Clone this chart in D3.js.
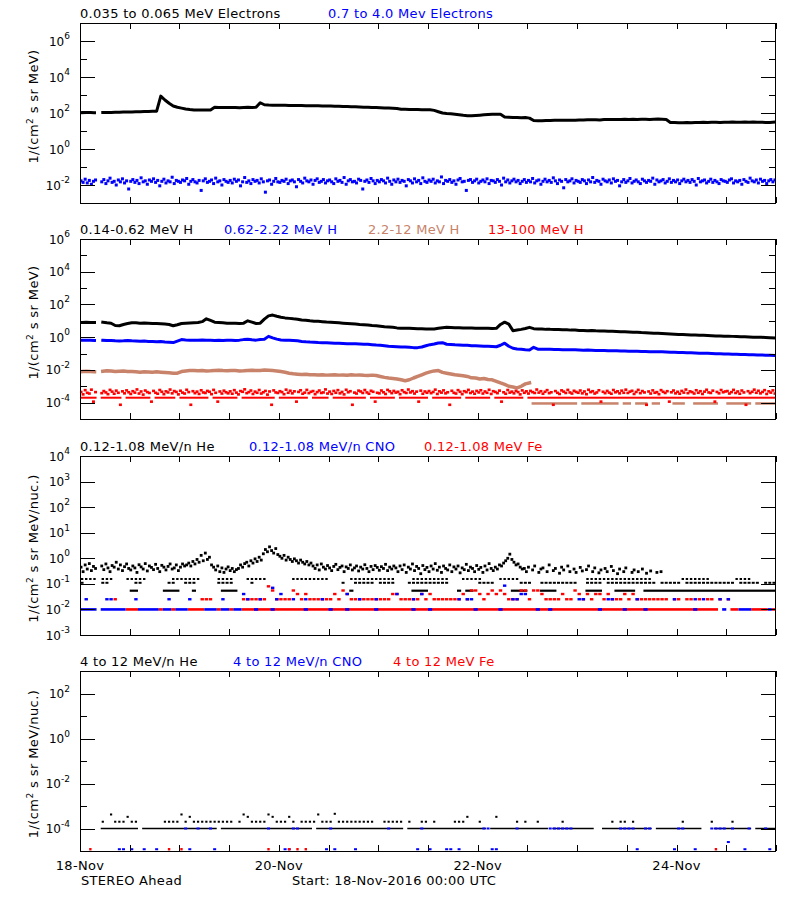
<!DOCTYPE html>
<html><head><meta charset="utf-8">
<script src="https://cdn.jsdelivr.net/npm/d3@7"></script>
<style>
body{margin:0;background:#fff}
text{font-family:"DejaVu Sans",sans-serif}
</style></head>
<body><svg id="c" width="800" height="900"></svg>
<script>
// ---------------- DATA ----------------
// hourly (index = hour since 18-Nov-2016 00:00 UTC), 0 = no data / no counts
const dateTicks = ["2016-11-18","2016-11-20","2016-11-22","2016-11-24"];
const p1Titles = ["0.035 to 0.065 MeV Electrons","0.7 to 4.0 Mev Electrons"];
const p2Titles = ["0.14-0.62 MeV H","0.62-2.22 MeV H","2.2-12 MeV H","13-100 MeV H"];
const p3Titles = ["0.12-1.08 MeV/n He","0.12-1.08 MeV/n CNO","0.12-1.08 MeV Fe"];
const p4Titles = ["4 to 12 MeV/n He","4 to 12 MeV/n CNO","4 to 12 MeV Fe"];

// Panel 1: 0.035-0.065 MeV electrons (hourly)
const eLow = [
105,106,105,104,0,107,108,108,110,111,112,113,
115,116,118,120,122,124,126,870,525,347,245,209,
186,166,155,148,147,148,146,148,209,205,200,204,
200,202,198,205,207,203,210,372,288,276,272,270,
268,266,263,260,258,257,254,252,250,249,247,245,
243,240,236,232,228,224,220,216,212,208,204,200,
196,192,187,182,178,162,160,158,156,155,153,152,
150,140,118,100,94,90,85,80,74,70,70,73,
76,79,82,84,85,86,60,58,56,57,55,56,
52,38,37,37,38,38,39,39,39,40,40,40,
41,41,42,42,42,41,43,44,44,43,44,45,
44,45,44,45,45,44,45,46,45,44,30,30,
29,29,30,29,30,30,31,30,31,31,30,31,
31,32,31,31,32,31,32,31,31,30,30,31];
// Panel 1: 0.7-4.0 MeV electrons (half-hourly)
const eHigh = [
.017,.014,.021,.013,.018,.011,.016,.019,0,0,.015,.02,.012,.017,.024,.014,.016,.01,.019,.015,.022,.013,.017,.006,
.016,.02,.014,.018,.012,.025,.015,.017,.011,.019,.016,.022,.014,.018,.009,.016,.021,.013,.017,.015,.027,.012,.018,.016,
.014,.019,.017,.023,.011,.016,.02,.015,.013,.018,.005,.017,.022,.014,.016,.019,.012,.024,.015,.017,.01,.02,.016,.014,
.018,.013,.021,.016,.019,.009,.015,.026,.014,.017,.012,.02,.016,.018,.013,.022,.015,.004,.017,.019,.011,.016,.023,.015,
.014,.018,.016,.021,.012,.017,.019,.015,.008,.02,.016,.013,.024,.017,.015,.019,.011,.018,.022,.014,.016,.02,.013,.017,
.019,.015,.012,.022,.016,.018,.014,.026,.011,.017,.02,.015,.016,.013,.021,.018,.006,.016,.019,.014,.023,.017,.012,.018,
.015,.02,.017,.013,.024,.016,.011,.019,.015,.021,.014,.018,.016,.009,.02,.017,.013,.022,.015,.018,.012,.025,.016,.014,
.019,.016,.021,.013,.017,.015,.028,.012,.018,.016,.02,.014,.017,.011,.019,.023,.015,.016,.005,.018,.02,.014,.017,.021,
.013,.016,.019,.015,.022,.012,.018,.017,.014,.02,.016,.01,.024,.015,.019,.013,.017,.021,.015,.018,.012,.016,.02,.014,
.018,.015,.023,.013,.017,.019,.011,.016,.021,.015,.018,.014,.025,.017,.012,.019,.016,.007,.02,.015,.017,.022,.013,.018,
.016,.014,.02,.017,.012,.019,.015,.026,.014,.018,.016,.011,.021,.017,.015,.019,.013,.022,.016,.018,.009,.015,.02,.014,
.017,.023,.013,.016,.019,.015,.012,.021,.017,.014,.018,.016,.024,.011,.019,.015,.017,.02,.013,.016,.022,.014,.018,.015,
.019,.012,.017,.021,.015,.018,.014,.02,.016,.01,.023,.015,.017,.019,.013,.016,.021,.014,.018,.015,.012,.02,.017,.016,
.014,.019,.022,.013,.017,.015,.018,.011,.02,.016,.014,.024,.017,.015,.019,.013,.021,.016,.018,.012,.017,.02,.015,.019];

// Panel 2: protons (hourly)
const hLow = [
7.9,8.1,7.9,7.8,0,8.3,7.6,7.1,5.2,5.0,6.0,6.9,
7.6,7.6,7.2,7.4,7.1,6.9,6.8,6.6,6.3,6.0,5.0,5.8,
6.9,7.2,7.4,7.6,7.9,8.9,13.2,10.5,8.3,7.9,7.6,7.2,
7.1,7.1,6.9,7.2,10,8.3,6.9,7.2,12.6,20,22.4,19,
16.6,15.1,14.1,13.2,12.6,11.2,10.7,10,9.5,9.3,8.9,8.5,
8.3,7.9,7.6,7.2,6.9,6.6,6.3,6.0,5.8,5.5,5.2,5.0,
4.7,4.4,4.2,4.0,3.7,3.5,3.5,3.5,3.4,3.3,3.3,3.2,
3.2,3.2,3.5,3.8,4.0,3.9,3.8,3.8,3.7,3.6,3.6,3.5,
3.5,3.5,3.5,3.4,3.5,6.0,8.3,6.3,2.5,2.75,3.0,3.4,
4.0,3.3,3.2,3.15,3.0,3.0,2.9,2.95,2.8,2.85,2.7,2.75,
2.6,2.6,2.5,2.55,2.45,2.4,2.38,2.3,2.28,2.2,2.15,2.12,
2.05,2.0,1.98,1.9,1.88,1.82,1.76,1.72,1.66,1.6,1.55,1.51,
1.48,1.45,1.41,1.38,1.35,1.32,1.29,1.26,1.23,1.2,1.17,1.15,
1.15,1.12,1.1,1.07,1.05,1.02,1.0,1.0,0.98,0.95,0.93,0.91];
const hMid = [
.65,.66,.65,.63,0,.65,.63,.62,.6,.59,.6,.62,
.6,.59,.56,.58,.55,.54,.53,.54,.51,.49,.47,.58,
.71,.68,.66,.65,.66,.68,.66,.65,.63,.65,.63,.66,
.65,.63,.66,.71,.74,.69,.66,.72,.76,1.12,.91,.76,
.68,.66,.65,.63,.6,.55,.52,.5,.49,.47,.46,.45,
.44,.43,.42,.41,.4,.39,.39,.38,.37,.37,.35,.33,
.32,.3,.28,.27,.26,.25,.25,.24,.23,.23,.25,.3,
.35,.38,.44,.46,.37,.355,.34,.33,.32,.32,.3,.295,
.29,.28,.275,.27,.26,.32,.43,.28,.21,.19,.18,.17,
.166,.24,.186,.185,.18,.18,.178,.175,.172,.17,.17,.168,
.165,.16,.162,.158,.155,.156,.152,.15,.148,.146,.145,.142,
.14,.138,.136,.135,.133,.131,.13,.128,.127,.126,.12,.118,
.116,.114,.112,.11,.108,.106,.105,.103,.1,.098,.097,.095,
.093,.092,.09,.088,.087,.085,.084,.082,.081,.08,.078,.077];
const hHigh = [
.0079,.0083,.0079,.0078,0,.0083,.0089,.0085,.0079,.0083,.0087,.0081,
.0079,.0076,.0072,.0078,.0074,.0071,.0076,.0072,.0069,.0066,.0063,.0063,
.0079,.0087,.0091,.0093,.0089,.0091,.0087,.0089,.0093,.0095,.0091,.0089,
.0093,.0091,.0087,.0089,.0093,.0095,.0091,.0093,.0098,.0095,.0091,.0087,
.0079,.0071,.0063,.0058,.0055,.0052,.0054,.005,.0051,.0049,.005,.0048,
.0049,.005,.0048,.0049,.0047,.005,.0048,.0049,.0047,.0046,.0048,.0045,
.004,.0035,.0032,.003,.0028,.0025,.0022,.0025,.0032,.004,.005,.0063,
.0076,.0087,.0091,.0071,.0063,.0056,.005,.0047,.0044,.004,.0033,.0032,
.0028,.003,.0026,.0025,.002,.0016,.0013,.001,.0009,.0008,.001,.0014,
.0016,0,0,0,0,0,0,0,0,0,0,0,
0,0,0,0,0,0,0,0,0,0,0,0,
0,0,0,0,0,0,0,0,0,0,0,0,
0,0,0,0,0,0,0,0,0,0,0,0,
0,0,0,0,0,0,0,0,0,0,0,0];
// 2.2-12 MeV H one-count floor: level and [startHour, endHour) spans
const hHighFloorLevel = 8.9e-5;
const hHighFloorSpans = [[109,120],[121,130],[131,133],[134,137],[138,140],[143,146],[148,154],[156,162],[163,168]];
// 13-100 MeV H (half-hourly)
const pRed = [
4.5e-4,3.2e-4,5.8e-4,4.0e-4,3.6e-4,6.2e-4,1.15e-4,4.4e-4,0,0,3.8e-4,5.1e-4,4.2e-4,3.3e-4,6.0e-4,4.7e-4,3.5e-4,5.4e-4,4.0e-4,7.4e-5,4.9e-4,3.7e-4,5.6e-4,4.3e-4,
3.4e-4,5.0e-4,4.1e-4,6.4e-4,3.6e-4,4.8e-4,3.1e-4,5.5e-4,4.4e-4,3.9e-4,1.15e-4,5.2e-4,4.0e-4,3.5e-4,5.9e-4,4.6e-4,3.3e-4,4.9e-4,4.2e-4,6.3e-4,3.7e-4,5.1e-4,4.5e-4,3.2e-4,
5.3e-4,4.1e-4,3.6e-4,6.1e-4,4.4e-4,7.4e-5,5.0e-4,3.8e-4,4.7e-4,3.4e-4,5.7e-4,4.2e-4,3.9e-4,5.2e-4,4.6e-4,3.3e-4,6.0e-4,4.0e-4,1.15e-4,4.8e-4,3.6e-4,5.4e-4,4.3e-4,3.7e-4,
4.9e-4,3.5e-4,5.8e-4,4.1e-4,3.2e-4,5.1e-4,4.6e-4,6.5e-4,3.8e-4,4.4e-4,5.5e-4,3.4e-4,4.7e-4,4.0e-4,5.9e-4,3.6e-4,4.3e-4,5.2e-4,3.1e-4,4.8e-4,7.4e-5,5.6e-4,4.2e-4,3.9e-4,
5.0e-4,4.4e-4,3.3e-4,6.2e-4,4.0e-4,5.3e-4,3.7e-4,4.9e-4,1.15e-4,4.5e-4,5.7e-4,3.5e-4,4.1e-4,6.0e-4,3.8e-4,4.6e-4,5.1e-4,3.3e-4,4.4e-4,5.5e-4,3.9e-4,4.2e-4,6.4e-4,3.6e-4,
4.7e-4,3.4e-4,5.2e-4,4.0e-4,5.8e-4,3.7e-4,4.5e-4,3.2e-4,6.1e-4,4.3e-4,5.0e-4,7.4e-5,4.1e-4,3.6e-4,5.4e-4,4.8e-4,3.9e-4,5.9e-4,4.2e-4,3.5e-4,5.3e-4,4.6e-4,1.15e-4,4.0e-4,
3.7e-4,5.5e-4,4.3e-4,3.4e-4,6.0e-4,4.9e-4,3.8e-4,5.2e-4,4.1e-4,4.6e-4,3.3e-4,5.7e-4,4.4e-4,3.9e-4,6.3e-4,4.2e-4,5.0e-4,3.6e-4,4.7e-4,1.15e-4,5.4e-4,3.5e-4,4.8e-4,4.0e-4,
5.1e-4,3.8e-4,4.5e-4,6.2e-4,3.4e-4,4.9e-4,4.1e-4,5.6e-4,3.7e-4,4.3e-4,7.4e-5,5.3e-4,4.0e-4,3.6e-4,5.8e-4,4.6e-4,3.3e-4,5.0e-4,4.4e-4,6.0e-4,3.9e-4,4.7e-4,3.5e-4,5.2e-4,
4.2e-4,5.7e-4,3.6e-4,4.8e-4,4.0e-4,6.1e-4,3.4e-4,5.0e-4,4.5e-4,3.8e-4,5.4e-4,1.15e-4,4.3e-4,3.5e-4,5.9e-4,4.1e-4,4.7e-4,3.7e-4,5.3e-4,4.4e-4,3.2e-4,5.6e-4,4.0e-4,4.9e-4,
3.6e-4,5.2e-4,4.4e-4,3.9e-4,6.3e-4,4.1e-4,5.0e-4,3.5e-4,4.6e-4,5.8e-4,3.8e-4,4.3e-4,7.4e-5,5.1e-4,4.0e-4,3.4e-4,5.6e-4,4.7e-4,3.9e-4,6.0e-4,4.2e-4,3.6e-4,5.3e-4,4.5e-4,
4.0e-4,5.5e-4,3.7e-4,4.8e-4,3.3e-4,6.1e-4,4.4e-4,5.0e-4,3.6e-4,4.2e-4,5.7e-4,1.15e-4,4.6e-4,3.8e-4,5.2e-4,4.1e-4,3.5e-4,5.9e-4,4.3e-4,4.9e-4,3.7e-4,5.4e-4,4.0e-4,6.2e-4,
3.9e-4,4.7e-4,5.3e-4,3.4e-4,4.5e-4,6.0e-4,3.8e-4,5.1e-4,4.2e-4,7.4e-5,4.8e-4,3.6e-4,5.6e-4,4.0e-4,4.4e-4,3.3e-4,5.8e-4,4.6e-4,3.9e-4,5.0e-4,1.15e-4,4.3e-4,5.5e-4,3.7e-4,
4.6e-4,3.5e-4,5.2e-4,4.1e-4,6.3e-4,3.8e-4,4.9e-4,4.4e-4,3.6e-4,5.7e-4,4.0e-4,5.0e-4,3.4e-4,4.7e-4,6.1e-4,4.2e-4,3.9e-4,5.4e-4,1.15e-4,4.5e-4,3.7e-4,5.9e-4,4.3e-4,4.8e-4,
5.1e-4,3.6e-4,4.4e-4,6.0e-4,3.9e-4,4.8e-4,3.5e-4,5.5e-4,4.2e-4,7.4e-5,5.0e-4,3.8e-4,4.6e-4,6.2e-4,4.0e-4,5.3e-4,3.7e-4,4.5e-4,5.8e-4,3.4e-4,4.9e-4,4.1e-4,5.6e-4,3.6e-4];
const pRedRowLevel = 2.0e-4;
const pRedRowSpans = [[0,4],[5,10],[11,17],[18,23],[24,31],[32,38],[39,47],[48,55],[56,60],[61,69],[70,76],[77,84],[85,92],[93,99],[100,107],[108,168]];

// Panel 3: 0.12-1.08 MeV/n He (half-hourly) plus count-level rows
const heP3 = [
.45,.3,.55,.38,.62,.33,.48,.4,0,0,.5,.36,.6,.42,.3,.52,.45,.7,.38,.55,.33,.47,.6,.4,
.35,.5,.42,.28,.56,.46,.38,.62,.32,.5,.44,.36,.58,.4,.3,.53,.45,.35,.48,.6,.38,.42,.55,.33,
.45,.6,.5,.55,.65,.5,.75,.6,.9,.7,1.3,.8,1.6,.9,1.1,.55,.45,.35,.5,.3,.42,.28,.38,.46,
.33,.4,.3,.36,.4,.55,.45,.62,.7,.5,.8,.65,.95,.75,1.1,.85,1.5,2.2,1.8,2.8,2.0,1.6,2.4,1.4,
1.2,1.0,1.3,.85,1.1,.9,.75,.95,.8,.65,.85,.7,.6,.75,.55,.65,.5,.4,.55,.35,.6,.45,.38,.52,
.42,.33,.48,.58,.36,.44,.5,.3,.46,.4,.55,.35,.42,.5,.32,.45,.38,.56,.4,.3,.48,.36,.52,.44,
.34,.47,.4,.58,.33,.45,.38,.5,.42,.3,.5,.36,.55,.28,.45,.38,.6,.33,.48,.4,.25,.52,.36,.44,
.3,.5,.38,.62,.34,.45,.28,.5,.4,.35,.55,.3,.46,.38,.5,.27,.42,.36,.58,.33,.45,.4,.3,.52,
.37,.44,.28,.5,.35,.62,.4,.33,.45,.38,.55,.5,.65,.8,1.0,1.45,.9,.7,.55,.6,.45,.38,.4,.3,
.45,0,.35,.5,0,.28,.38,.42,0,.3,.55,0,.33,.4,0,.26,.45,.35,0,.5,.3,0,.38,.28,
0,.44,.32,0,.36,.5,0,.3,.42,0,.27,.35,0,.4,.3,0,.48,.33,0,.25,.38,0,.3,.42,
0,0,.28,.35,0,.3,0,.38,0,.26,0,.32,0,0,.28,0,.3,0,0,0,0,0,0,0,
0,0,0,0,0,0,0,0,0,0,0,0,0,0,0,0,0,0,0,0,0,0,0,0,
0,0,0,0,0,0,0,0,0,0,0,0,0,0,0,0,0,0,0,0,0,0,0,0];
const heRowALevel = 0.155;
const heRowASpans = [[0,4],[5,8],[11,16],[22,29],[33,37],[40,45],[51,60],[65,76],[80,89],[92,97],[101,106],[122,138],[145,152],[158,162]];
const heRowBLevel = 0.11;
const heRowBSpans = [[0,1],[5,7],[13,15],[21,23],[25,28],[33,37],[41,42],[63,64],[66,71],[72,76],[79,89],[96,100],[106,109],[111,120],[122,126],[127,139],[140,145],[146,158],[159,164],[165,168]];
const heRowCLevel = 0.054;
const heRowCSpans = [[12,14],[20,24],[27,28],[34,38],[65,66],[80,84],[91,92],[93,95],[104,108],[111,115],[122,126],[129,134],[136,168]];
// CNO / Fe one-count level and spans, plus higher-count hourly values
const baseLevelP3 = 0.01;
const cnoBaseSpans = [[0,4],[5,11],[14,19],[20,22],[23,26],[30,33],[34,36],[37,39],[42,43],[46,47],[54,55],[60,61],[64,65],[71,72],[80,81],[84,85],[95,96],[101,102],[110,111],[113,114],[125,126],[131,132],[136,137],[148,149],[155,156],[159,162],[166,167]];
const feBaseSpans = [[11,14],[19,20],[22,23],[26,30],[33,34],[36,37],[39,154],[157,159],[162,166],[167,168]];
const cnoUp = [
0,.025,0,0,0,0,.025,.025,0,0,0,0,
0,.025,0,0,0,0,0,0,0,.025,0,0,
0,0,.025,0,0,0,0,0,0,0,.025,0,
0,0,0,.04,.025,0,0,.025,0,0,.07,.025,
.04,0,0,.025,0,0,.025,0,0,0,.025,0,
0,0,0,0,.04,0,0,.025,0,0,0,.025,
0,0,0,0,.04,0,0,0,.025,0,.04,0,
0,0,0,0,0,0,0,.025,0,.025,.025,0,
0,0,0,0,0,0,.085,0,.025,.025,.04,.04,
0,0,0,0,0,0,0,0,0,0,0,0,
.025,.025,0,0,0,0,0,.025,.025,0,0,0,
0,0,.025,0,0,0,0,0,0,0,0,.025,
0,0,0,0,.025,0,.025,0,0,0,.025,0,
.025,0,0,0,0,0,0,0,0,0,0,0];
const feUp = [
0,0,0,0,0,0,0,0,.025,0,0,0,
0,0,0,0,0,0,0,0,0,0,0,0,
0,0,0,0,0,.025,.025,.025,0,0,0,0,
0,0,0,.025,.025,.025,.025,.025,.025,.08,.055,.025,
.025,.025,.025,.055,.04,.025,.04,.025,.025,.025,.025,.025,
.025,.04,.025,.055,.04,.025,.025,.025,.025,.025,.025,.025,
.025,.025,.025,.04,.04,.025,.025,.025,.025,.025,.04,.025,
.04,.025,.025,.025,.025,.025,.025,.025,.04,.025,.055,.055,
.04,.025,.04,.055,.04,.055,.04,.025,.025,.025,.055,.055,
.025,.055,.055,.04,.025,.025,.025,.025,.04,.025,.025,.055,
.04,.025,.04,.025,.04,.04,.025,.04,.025,.025,.025,.04,
.025,.04,.025,.025,.025,.025,.025,.025,.025,.025,0,.025,
.025,0,.025,.025,0,.025,0,.025,.025,0,.025,0,
.025,0,0,0,0,0,0,0,0,0,0,0];

// Panel 4: 4-12 MeV/n
const he4LowLevel = 1e-4;
const he4LowSpans = [[5,14],[15,33],[34,56],[57,78],[79,98],[99,113],[114,124],[126,138],[139,150],[153,162],[163,168]];
const he4Up = [
0,0,0,0,0,2e-4,0,4.2e-4,2e-4,2e-4,2e-4,3.3e-4,
2e-4,2e-4,0,0,0,0,0,0,2e-4,2e-4,2e-4,2e-4,
4.2e-4,2e-4,3.3e-4,2e-4,2e-4,2e-4,2e-4,2e-4,2e-4,2e-4,2e-4,2e-4,
2e-4,0,2e-4,4.2e-4,3.3e-4,2e-4,2e-4,2e-4,2e-4,4.2e-4,3.3e-4,2e-4,
2e-4,2e-4,3.3e-4,2e-4,0,2e-4,2e-4,2e-4,2e-4,4.2e-4,2e-4,2e-4,
2e-4,4.5e-4,2e-4,2e-4,2e-4,2e-4,2e-4,2e-4,2e-4,2e-4,2e-4,0,
0,2e-4,2e-4,2e-4,2e-4,2e-4,0,2e-4,0,0,2e-4,2e-4,
0,2e-4,0,0,0,0,2e-4,2e-4,2e-4,3.3e-4,0,0,
2e-4,0,0,0,3.3e-4,0,0,0,0,2e-4,0,2e-4,
0,0,2e-4,0,0,0,0,0,2e-4,0,0,0,
0,0,0,0,0,0,0,0,2e-4,0,2e-4,2e-4,
0,2e-4,0,0,0,0,0,0,0,0,0,0,
0,2e-4,0,0,0,0,0,0,2e-4,0,0,0,
0,2e-4,0,0,0,0,0,0,0,0,0,0];
const cno4 = [
0,0,0,0,0,0,0,0,0,1.2e-5,1.2e-5,0,
1.2e-5,0,0,1.2e-5,0,0,1.2e-5,0,0,0,0,0,
0,1e-4,1.2e-5,0,1e-4,0,0,1e-4,1.2e-5,0,0,0,
0,0,0,0,0,0,0,0,0,1e-4,0,0,
0,1.2e-5,1.2e-5,1e-4,1e-4,0,0,0,0,0,0,1.2e-5,
1e-4,1.2e-5,0,0,0,0,1.2e-5,0,0,0,0,0,
0,0,1e-4,0,0,0,0,0,0,1.2e-5,1e-4,0,
1.2e-5,0,0,0,1.2e-5,1.2e-5,0,1.2e-5,0,0,0,0,
0,1e-4,1e-4,1.2e-5,1.2e-5,0,0,0,0,1e-4,0,0,
0,0,0,0,0,1e-4,1e-4,1e-4,1e-4,1e-4,1e-4,0,
0,0,0,0,0,0,0,0,0,0,1e-4,1e-4,
1e-4,1e-4,1.2e-5,0,1e-4,1e-4,0,0,0,0,0,1.2e-5,
1e-4,1e-4,0,0,1.2e-5,0,0,0,1e-4,1e-4,1e-4,1e-4,
2.5e-5,1e-4,0,0,1.2e-5,1e-4,0,0,0,1e-4,1.2e-5,0];
const fe4Level = 1.2e-5;
const fe4Hours = [2,21,24,45,50,52,54,153];

// ---------------- DRAWING ----------------
const START = Date.UTC(2016,10,18), END = Date.UTC(2016,10,25), HOUR = 36e5;
const BLACK="#000", BLUE="#0000ff", RED="#ff0000", BROWN="#c8836a";
const X0 = 80, X1 = 776;
const x = d3.scaleUtc().domain([new Date(START), new Date(END)]).range([X0, X1]);
const svg = d3.select("#c");
svg.append("rect").attr("width",800).attr("height",900).attr("fill","#fff");

const panels = [
  {top:23, bottom:203, dom:[1e-3,1e7], major:[1e-2,1,1e2,1e4,1e6], minor:[1e-1,10,1e3,1e5], unit:"MeV)", labOff:-6.5,
   titles:p1Titles, tcol:[BLACK,BLUE], tx:[80,328]},
  {top:239, bottom:419, dom:[1e-5,1e6], major:[1e-4,1e-2,1,1e2,1e4,1e6], minor:[1e-3,1e-1,10,1e3,1e5], unit:"MeV)", labOff:-6.5,
   titles:p2Titles, tcol:[BLACK,BLUE,BROWN,RED], tx:[80,224,368,488]},
  {top:456, bottom:635, dom:[1e-3,1e4], major:[1e-3,1e-2,1e-1,1,10,100,1e3,1e4], minor:[], unit:"MeV/nuc.)", labOff:3,
   titles:p3Titles, tcol:[BLACK,BLUE,RED], tx:[80,249,424]},
  {top:671, bottom:851, dom:[1e-5,1e3], major:[1e-4,1e-2,1,1e2], minor:[1e-3,1e-1,10], unit:"MeV/nuc.)", labOff:3,
   titles:p4Titles, tcol:[BLACK,BLUE,RED], tx:[80,233,393]}
];

const tHour = i => new Date(START + (i+0.5)*HOUR);
const tHalf = i => new Date(START + (i*0.5+0.25)*HOUR);
const tAt = h => new Date(START + h*HOUR);

function drawLine(g, y, vals, color, sw){
  const pts = vals.map((v,i)=>({t:tHour(i), v}));
  g.append("path").datum(pts).attr("fill","none").attr("stroke",color)
   .attr("stroke-width",sw).attr("stroke-linejoin","round").attr("stroke-linecap","square")
   .attr("d", d3.line().defined(d=>d.v>0).x(d=>x(d.t)).y(d=>y(d.v)));
}
function drawDots(g, y, vals, tf, color, w, h){
  g.append("g").selectAll("rect").data(vals.map((v,i)=>({t:tf(i), v})).filter(d=>d.v>0))
   .join("rect").attr("x",d=>x(d.t)-w/2).attr("y",d=>y(d.v)-h/2)
   .attr("width",w).attr("height",h).attr("fill",color);
}
function drawSpans(g, y, spans, level, color, h){
  g.append("g").selectAll("rect").data(spans).join("rect")
   .attr("x",d=>x(tAt(d[0]))).attr("width",d=>x(tAt(d[1]))-x(tAt(d[0])))
   .attr("y",y(level)-h/2).attr("height",h).attr("fill",color);
}
function drawDottedSpans(g, y, spans, level, color, w, h){
  const hrs = [];
  spans.forEach(s=>{ for(let k=s[0];k<s[1];k++) hrs.push(k); });
  g.append("g").selectAll("rect").data(hrs).join("rect")
   .attr("x",d=>x(tHour(d))-w/2).attr("width",w)
   .attr("y",y(level)-h/2).attr("height",h).attr("fill",color);
}

panels.forEach((p, pi) => {
  const y = d3.scaleLog().domain(p.dom).range([p.bottom, p.top]);
  p.y = y;
  const clipId = "clip"+pi;
  svg.append("clipPath").attr("id",clipId).append("rect")
     .attr("x",X0).attr("y",p.top).attr("width",X1-X0).attr("height",p.bottom-p.top);
  p.g = svg.append("g").attr("clip-path",`url(#${clipId})`);

  const xb = svg.append("g").attr("transform",`translate(0,${p.bottom})`)
     .call(d3.axisBottom(x).ticks(d3.utcHour.every(12)).tickSize(-6).tickFormat(""));
  const xt = svg.append("g").attr("transform",`translate(0,${p.top})`)
     .call(d3.axisTop(x).ticks(d3.utcHour.every(12)).tickSize(-6).tickFormat(""));
  const yl = svg.append("g").attr("transform",`translate(${X0},0)`)
     .call(d3.axisLeft(y).tickValues(p.major).tickSize(-15).tickFormat(""));
  const yr = svg.append("g").attr("transform",`translate(${X1},0)`)
     .call(d3.axisRight(y).tickValues(p.major).tickSize(-15).tickFormat(""));
  const yl2 = svg.append("g").attr("transform",`translate(${X0},0)`)
     .call(d3.axisLeft(y).tickValues(p.minor).tickSize(-7).tickFormat(""));
  const yr2 = svg.append("g").attr("transform",`translate(${X1},0)`)
     .call(d3.axisRight(y).tickValues(p.minor).tickSize(-7).tickFormat(""));
  [xb,xt,yl,yr,yl2,yr2].forEach(a=>{
    a.select(".domain").remove();
    a.selectAll("line").attr("stroke","#000").attr("shape-rendering","crispEdges");
  });
  svg.append("rect").attr("x",X0+0.5).attr("y",p.top+0.5).attr("width",X1-X0-1).attr("height",p.bottom-p.top)
     .attr("fill","none").attr("stroke","#000").attr("shape-rendering","crispEdges");

  p.major.forEach(v=>{
    const e = Math.round(Math.log10(v));
    const t = svg.append("text").attr("x",70).attr("y",y(v)+4.5).attr("text-anchor","end")
       .attr("font-size",12).attr("fill","#000");
    t.append("tspan").text("10");
    t.append("tspan").attr("dy",-6.5).attr("font-size",9).text(e<0 ? "-"+(-e) : String(e));
  });

  const cy = (p.top+p.bottom)/2 + p.labOff;
  const lt = svg.append("text").attr("transform",`translate(38,${cy}) rotate(-90)`)
     .attr("text-anchor","middle").attr("font-size",13).attr("letter-spacing",0.4).attr("fill","#000");
  lt.append("tspan").text("1/(cm");
  lt.append("tspan").attr("dy",-5).attr("font-size",9).text("2");
  lt.append("tspan").attr("dy",5).text(" s sr "+p.unit);

  p.titles.forEach((s,k)=>{
    svg.append("text").attr("x",p.tx[k]).attr("y",p.top-5.5).attr("font-size",13)
       .attr("letter-spacing",0.3).attr("fill",p.tcol[k]).text(s);
  });
});

// ---- panel 1
{ const p = panels[0], g = p.g, y = p.y;
  drawLine(g, y, eLow, BLACK, 3);
  drawDots(g, y, eHigh, tHalf, BLUE, 3, 3);
}
// ---- panel 2
{ const p = panels[1], g = p.g, y = p.y;
  drawLine(g, y, hLow, BLACK, 3);
  drawLine(g, y, hMid, BLUE, 3);
  drawLine(g, y, hHigh, BROWN, 3.5);
  drawSpans(g, y, hHighFloorSpans, hHighFloorLevel, BROWN, 2.5);
  drawSpans(g, y, pRedRowSpans, pRedRowLevel, RED, 2);
  drawDots(g, y, pRed, tHalf, RED, 3, 2.6);
}
// ---- panel 3
{ const p = panels[2], g = p.g, y = p.y;
  drawDots(g, y, heP3, tHalf, BLACK, 2.8, 2.8);
  drawDottedSpans(g, y, heRowASpans, heRowALevel, BLACK, 2.4, 2);
  drawDottedSpans(g, y, heRowBSpans, heRowBLevel, BLACK, 3, 2);
  drawSpans(g, y, heRowCSpans, heRowCLevel, BLACK, 2.2);
  drawSpans(g, y, feBaseSpans, baseLevelP3, RED, 2.6);
  drawDots(g, y, feUp, tHour, RED, 3.4, 2.4);
  drawSpans(g, y, cnoBaseSpans, baseLevelP3, BLUE, 2.6);
  drawDots(g, y, cnoUp, tHour, BLUE, 3.4, 2.4);
}
// ---- panel 4
{ const p = panels[3], g = p.g, y = p.y;
  drawSpans(g, y, he4LowSpans, he4LowLevel, BLACK, 1.5);
  drawDots(g, y, he4Up, tHour, BLACK, 2.2, 2);
  drawDots(g, y, cno4, tHour, BLUE, 3, 2);
  drawDots(g, y, fe4Hours.map(() => fe4Level), i => tHour(fe4Hours[i]), RED, 2.4, 2.4);
}

dateTicks.forEach(s=>{
  const d = new Date(s+"T00:00:00Z");
  svg.append("text").attr("x",x(d)).attr("y",870).attr("text-anchor","middle")
     .attr("font-size",13).attr("letter-spacing",0.3).attr("fill","#000").text(d3.utcFormat("%d-%b")(d));
});
svg.append("text").attr("x",81).attr("y",885).attr("font-size",13).attr("letter-spacing",0.3).text("STEREO Ahead");
svg.append("text").attr("x",292).attr("y",885).attr("font-size",13).attr("letter-spacing",0.3).text("Start: 18-Nov-2016 00:00 UTC");
</script>
</body></html>
